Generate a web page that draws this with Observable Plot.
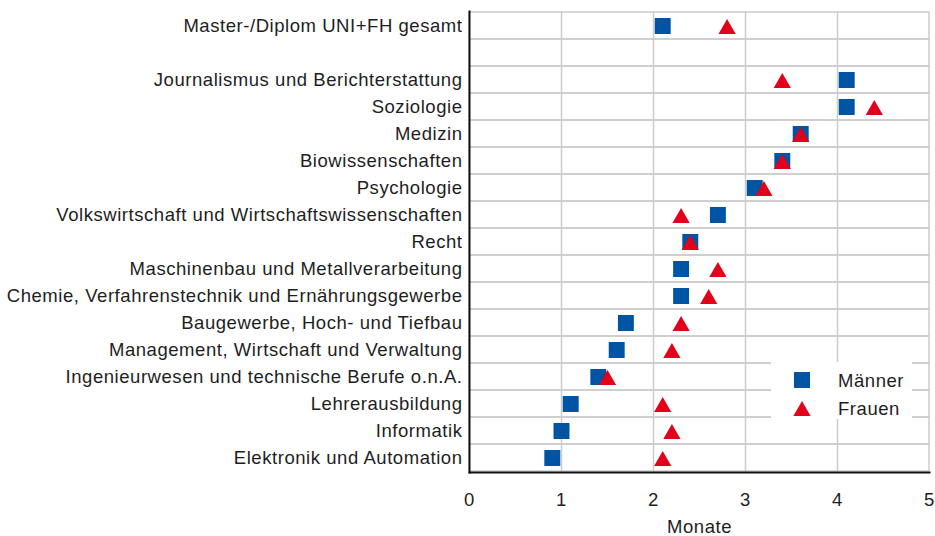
<!DOCTYPE html>
<html>
<head>
<meta charset="utf-8">
<script src="https://cdn.jsdelivr.net/npm/d3@7"></script>
<script src="https://cdn.jsdelivr.net/npm/@observablehq/plot@0.6"></script>
<style>
  body { margin: 0; background: #fff; }
  #wrap { position: relative; width: 935px; height: 536px; font-family: "Liberation Sans", Arial, sans-serif; }
  #wrap svg text { letter-spacing: 0.55px; }
</style>
</head>
<body>
<div id="wrap"></div>
<script>
const categories = [
  "Master-/Diplom UNI+FH gesamt",
  " ",
  "Journalismus und Berichterstattung",
  "Soziologie",
  "Medizin",
  "Biowissenschaften",
  "Psychologie",
  "Volkswirtschaft und Wirtschaftswissenschaften",
  "Recht",
  "Maschinenbau und Metallverarbeitung",
  "Chemie, Verfahrenstechnik und Ernährungsgewerbe",
  "Baugewerbe, Hoch- und Tiefbau",
  "Management, Wirtschaft und Verwaltung",
  "Ingenieurwesen und technische Berufe o.n.A.",
  "Lehrerausbildung",
  "Informatik",
  "Elektronik und Automation"
];
const maenner = [2.1, null, 4.1, 4.1, 3.6, 3.4, 3.1, 2.7, 2.4, 2.3, 2.3, 1.7, 1.6, 1.4, 1.1, 1.0, 0.9];
const frauen  = [2.8, null, 3.4, 4.4, 3.6, 3.4, 3.2, 2.3, 2.4, 2.7, 2.6, 2.3, 2.2, 1.5, 2.1, 2.2, 2.1];
const xTicks = [0, 1, 2, 3, 4, 5];
const seriesNames = ["Männer", "Frauen"];
const seriesColors = ["#0054a4", "#e2001a"];
const xLabel = "Monate";

const rows = categories.map((cat, i) => ({cat, m: maenner[i], f: frauen[i]}));
const textColor = "#1e1e1e";
const gridColor = "#cccccc";
const fontFamily = "'Liberation Sans', Arial, sans-serif";
const fontSize = "18.5px";

const plot = Plot.plot({
  width: 935,
  height: 536,
  marginTop: 11,
  marginBottom: 64,
  marginLeft: 469,
  marginRight: 6,
  style: {fontFamily, fontSize, color: textColor, background: "white"},
  x: {domain: [xTicks[0], xTicks[xTicks.length - 1]], ticks: xTicks, tickFormat: d => String(d), label: xLabel, labelAnchor: "center", labelArrow: "none", labelOffset: 60, tickSize: 0, tickPadding: 20},
  y: {domain: categories, padding: 0, label: null, tickSize: 0, tickPadding: 7},
  marks: [
    Plot.barX(categories, {y: d => d, x1: xTicks[0], x2: xTicks[xTicks.length - 1], fill: "none", stroke: gridColor, strokeWidth: 1.5}),
    Plot.ruleX(xTicks.slice(1, -1), {stroke: gridColor, strokeWidth: 1.5}),
    Plot.frame({anchor: "left", stroke: "#111", strokeWidth: 2}),
    Plot.frame({anchor: "bottom", stroke: "#111", strokeWidth: 2}),
    Plot.dot(rows, {x: "m", y: "cat", symbol: "square", r: 9, fill: seriesColors[0], stroke: "none"}),
    Plot.dot(rows, {x: "f", y: "cat", symbol: "triangle", r: 6.4, fill: seriesColors[1], stroke: "none", dy: 3})
  ]
});

const wrap = document.getElementById("wrap");
wrap.appendChild(plot);

// Legend
const legendW = 141, legendH = 57;
const legend = d3.create("svg")
  .attr("width", legendW)
  .attr("height", legendH)
  .style("position", "absolute")
  .style("left", "771px")
  .style("top", "362px");
legend.append("rect").attr("width", legendW).attr("height", legendH).attr("fill", "white");
const symbols = [d3.symbol(d3.symbolSquare, Math.PI * 81)(), d3.symbol(d3.symbolTriangle, Math.PI * 6.4 * 6.4)()];
const symOffsets = [0, 3];
seriesNames.forEach((name, i) => {
  const cy = 18 + i * 28;
  legend.append("path").attr("d", symbols[i]).attr("fill", seriesColors[i])
    .attr("transform", `translate(31,${cy + symOffsets[i]})`);
  legend.append("text").attr("x", 67).attr("y", cy + 6.7).attr("fill", textColor)
    .style("font-family", fontFamily).style("font-size", fontSize).text(name);
});
wrap.appendChild(legend.node());
</script>
</body>
</html>
